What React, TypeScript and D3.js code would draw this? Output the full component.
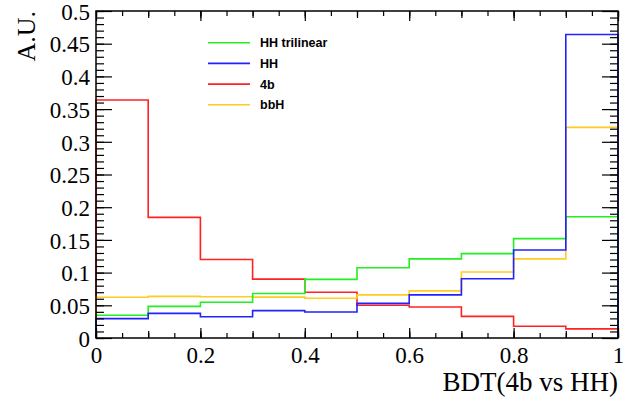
import { axisBottom, axisLeft, axisRight, axisTop, range, scaleLinear, select } from "d3";
import { useEffect, useRef } from "react";

const binEdges = [0, 0.1, 0.2, 0.3, 0.4, 0.5, 0.6, 0.7, 0.8, 0.9, 1.0];

const hhTrilinear = [0.0347, 0.0484, 0.0546, 0.068, 0.0897, 0.1075, 0.121, 0.129, 0.152, 0.1855];
const hh = [0.0296, 0.0377, 0.0326, 0.0418, 0.0398, 0.053, 0.066, 0.0907, 0.1346, 0.464];
const fourB = [0.364, 0.1845, 0.12, 0.09, 0.07, 0.05, 0.0474, 0.033, 0.018, 0.014];
const bbH = [0.0622, 0.0637, 0.063, 0.0625, 0.0607, 0.066, 0.072, 0.101, 0.121, 0.322];

const legendItems = [
  { label: "HH trilinear", color: "#22ee22" },
  { label: "HH", color: "#2222ff" },
  { label: "4b", color: "#ff2222" },
  { label: "bbH", color: "#ffcc22" },
];

// drawing order: later ones sit on top
const drawOrder = [
  { values: fourB, color: "#ff2222" },
  { values: bbH, color: "#ffcc22" },
  { values: hhTrilinear, color: "#22ee22" },
  { values: hh, color: "#2222ff" },
];

const xTicks = [0, 0.2, 0.4, 0.6, 0.8, 1];
const yTicks = [0, 0.05, 0.1, 0.15, 0.2, 0.25, 0.3, 0.35, 0.4, 0.45, 0.5];

export default function App() {
  const svgRef = useRef<SVGSVGElement | null>(null);

  useEffect(() => {
    if (!svgRef.current) return;
    const svg = select(svgRef.current);
    svg.selectAll("*").remove();

    const margin = { top: 11, right: 13, bottom: 59, left: 96 };
    const width = 631;
    const height = 397;
    const innerWidth = width - margin.left - margin.right;
    const innerHeight = height - margin.top - margin.bottom;

    const x = scaleLinear().domain([0, 1]).range([0, innerWidth]);
    const y = scaleLinear().domain([0, 0.5]).range([innerHeight, 0]);

    const chart = svg.append("g").attr("transform", `translate(${margin.left},${margin.top})`);

    // histograms
    for (const series of drawOrder) {
      let d = `M${x(binEdges[0])},${y(0)}`;
      series.values.forEach((v, i) => {
        d += `L${x(binEdges[i])},${y(v)}L${x(binEdges[i + 1])},${y(v)}`;
      });
      d += `L${x(binEdges[binEdges.length - 1])},${y(0)}`;
      chart
        .append("path")
        .attr("d", d)
        .attr("fill", "none")
        .attr("stroke", series.color)
        .attr("stroke-width", 1.6);
    }

    const tickStyle = (g: any) => {
      g.select(".domain").remove();
      g.selectAll("line").attr("stroke", "#000").attr("stroke-width", 1.2);
      g.selectAll("text").remove();
    };

    // x minor ticks (0.05), medium (0.1), major (0.2)
    const xMinor = range(0, 21).map((i) => i * 0.05);
    const xMid = range(0, 11).map((i) => i * 0.1);
    const yMinor = range(0, 51).map((i) => i * 0.01);

    const addX = (vals: number[], len: number) => {
      chart
        .append("g")
        .attr("transform", `translate(0,${innerHeight})`)
        .call(axisTop(x).tickValues(vals).tickSize(len))
        .call(tickStyle);
      chart
        .append("g")
        .call(axisBottom(x).tickValues(vals).tickSize(len))
        .call(tickStyle);
    };
    addX(xMinor, 5);
    addX(xMid, 7);
    addX(xTicks, 10);

    const addY = (vals: number[], len: number) => {
      chart
        .append("g")
        .call(axisRight(y).tickValues(vals).tickSize(len))
        .call(tickStyle);
      chart
        .append("g")
        .attr("transform", `translate(${innerWidth},0)`)
        .call(axisLeft(y).tickValues(vals).tickSize(len))
        .call(tickStyle);
    };
    addY(yMinor, 8);
    addY(yTicks, 16);

    // frame
    chart
      .append("rect")
      .attr("x", 0)
      .attr("y", 0)
      .attr("width", innerWidth)
      .attr("height", innerHeight)
      .attr("fill", "none")
      .attr("stroke", "#000")
      .attr("stroke-width", 1.5);

    // tick labels
    const xLabels = chart
      .append("g")
      .attr("transform", `translate(0,${innerHeight})`)
      .call(axisBottom(x).tickValues(xTicks).tickSize(0).tickPadding(0).tickFormat((d) => String(+d)));
    xLabels.select(".domain").remove();
    xLabels
      .selectAll("text")
      .attr("dy", null)
      .attr("y", 25)
      .attr("font-family", "'Liberation Serif', serif")
      .attr("font-size", 23)
      .attr("fill", "#000");

    const yLabels = chart
      .append("g")
      .call(axisLeft(y).tickValues(yTicks).tickSize(0).tickPadding(6).tickFormat((d) => String(+(+d).toFixed(2))));
    yLabels.select(".domain").remove();
    yLabels
      .selectAll("text")
      .attr("font-family", "'Liberation Serif', serif")
      .attr("font-size", 23)
      .attr("dy", "0.36em")
      .attr("fill", "#000");

    // axis titles
    svg
      .append("text")
      .attr("x", margin.left + innerWidth)
      .attr("y", 391)
      .attr("text-anchor", "end")
      .attr("font-family", "'Liberation Serif', serif")
      .attr("font-size", 27)
      .attr("fill", "#000")
      .text("BDT(4b vs HH)");

    svg
      .append("text")
      .attr("transform", `translate(35,${margin.top}) rotate(-90)`)
      .attr("text-anchor", "end")
      .attr("font-family", "'Liberation Serif', serif")
      .attr("font-size", 26)
      .attr("fill", "#000")
      .text("A.U.");

    // legend
    const legend = svg.append("g").attr("transform", "translate(208,42.7)");
    legendItems.forEach((item, i) => {
      const row = legend.append("g").attr("transform", `translate(0,${i * 20.7})`);
      row
        .append("line")
        .attr("x1", 0)
        .attr("x2", 42)
        .attr("y1", 0)
        .attr("y2", 0)
        .attr("stroke", item.color)
        .attr("stroke-width", 1.6);
      row
        .append("text")
        .attr("x", 52)
        .attr("y", 4.5)
        .attr("font-family", "'Liberation Sans', Arial, sans-serif")
        .attr("font-weight", "bold")
        .attr("font-size", 12.5)
        .attr("fill", "#000")
        .text(item.label);
    });
  }, []);

  return (
    <div style={{ position: "absolute", left: 0, top: 0 }}>
      <svg ref={svgRef} width={631} height={397} style={{ display: "block", background: "#fff" }} />
    </div>
  );
}
